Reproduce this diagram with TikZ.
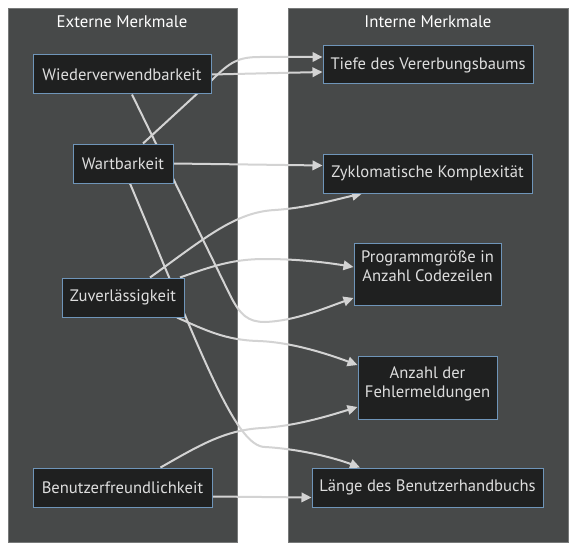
\documentclass[tikz,border=0pt]{standalone}
\usepackage{fontspec}
\setmainfont{PT Sans}
\usetikzlibrary{arrows.meta}
\pgfdeclarelayer{bg}
\pgfdeclarelayer{edges}
\pgfsetlayers{bg,edges,main}
\definecolor{clusterbg}{HTML}{474949}
\definecolor{clusterline}{HTML}{777979}
\definecolor{nodebg}{HTML}{1F2020}
\definecolor{nodeline}{HTML}{6F95B9}
\definecolor{nodetext}{HTML}{DEDEDE}
\definecolor{edgeline}{HTML}{D3D3D3}
\begin{document}
\begin{tikzpicture}[x=1pt,y=-1pt,
	box/.style={draw=nodeline, fill=nodebg, text=nodetext, line width=1pt, inner sep=0pt, minimum height=39pt, align=center, font=\fontsize{16.6}{19}\selectfont},
	title/.style={text=white, font=\fontsize{16.8}{19}\selectfont},
	edge/.style={draw=edgeline, line width=2pt, -{Triangle[length=10pt,width=9.5pt]}}]
	\useasboundingbox (0,0) rectangle (576,551);

	\begin{pgfonlayer}{bg}
		\fill[white] (0,0) rectangle (576,551);
		\draw[clusterline, fill=clusterbg] (8,8) rectangle (237,542);
		\draw[clusterline, fill=clusterbg] (288,8) rectangle (568,542);
	\end{pgfonlayer}

	\node[title] (extern) at (122,22) {Externe Merkmale};
	\node[title] (intern) at (428,22) {Interne Merkmale};

	\node[box, minimum width=178pt] (wied) at (122,74.5) {Wiederverwendbarkeit};
	\node[box, minimum width=100pt] (wart) at (123,163.5) {Wartbarkeit};
	\node[box, minimum width=122pt] (zuv) at (123,297.5) {Zuverlässigkeit};
	\node[box, minimum width=179pt] (benu) at (122.5,487.5) {Benutzerfreundlichkeit};

	\node[box, minimum width=210pt, minimum height=38pt] (tiefe) at (428,65) {Tiefe des Vererbungsbaums};
	\node[box, minimum width=209pt] (zykl) at (427.5,173.5) {Zyklomatische Komplexität};
	\node[box, minimum width=147pt, minimum height=62pt, text depth=16pt] (prog) at (427.5,274) {Programmgröße in\\Anzahl Codezeilen};
	\node[box, minimum width=139pt, minimum height=63pt, text depth=10pt] (fehl) at (427.5,387.5) {Anzahl der\\Fehlermeldungen};
	\node[box, minimum width=231pt] (laenge) at (427.5,487.5) {Länge des Benutzerhandbuchs};

	\begin{pgfonlayer}{edges}
		\draw[edge] (wied.east) -- ([yshift=-7pt]tiefe.west);
		\draw[edge] ([xshift=20pt]wart.north) -- (212,80) .. controls (230,62) and (238,57) .. (260,57) -- ([yshift=8pt]tiefe.west);
		\draw[edge] ([xshift=10pt]wied.south) -- (230,295) .. controls (240,315) and (248,322) .. (265,322) .. controls (295,321) and (325,308) .. ([yshift=-24pt]prog.west);
		\draw[edge] (wart.east) -- ([yshift=8pt]zykl.west);
		\draw[edge] ([xshift=7pt]wart.south) .. controls (200,350) and (235,447) .. (265,447) .. controls (300,449) and (335,458) .. ([xshift=-67.5pt]laenge.north);
		\draw[edge] ([xshift=27pt]zuv.north) .. controls (205,238) and (235,212) .. (275,210) .. controls (305,208) and (330,201) .. ([xshift=-65.5pt]zykl.south);
		\draw[edge] ([xshift=57pt]zuv.north) .. controls (215,265) and (235,259) .. (265,259) .. controls (300,259) and (330,263) .. ([yshift=7pt]prog.west);
		\draw[edge] ([xshift=54pt]zuv.south) .. controls (205,330) and (225,340) .. (258,341) .. controls (290,342) and (325,353) .. ([yshift=22.5pt]fehl.west);
		\draw[edge] ([xshift=38pt]benu.north) .. controls (200,445) and (225,430) .. (262,428) .. controls (295,426) and (325,417) .. ([yshift=-19.5pt]fehl.west);
		\draw[edge] ([yshift=-9pt]benu.east) -- ([yshift=-10pt]laenge.west);
	\end{pgfonlayer}
\end{tikzpicture}
\end{document}
